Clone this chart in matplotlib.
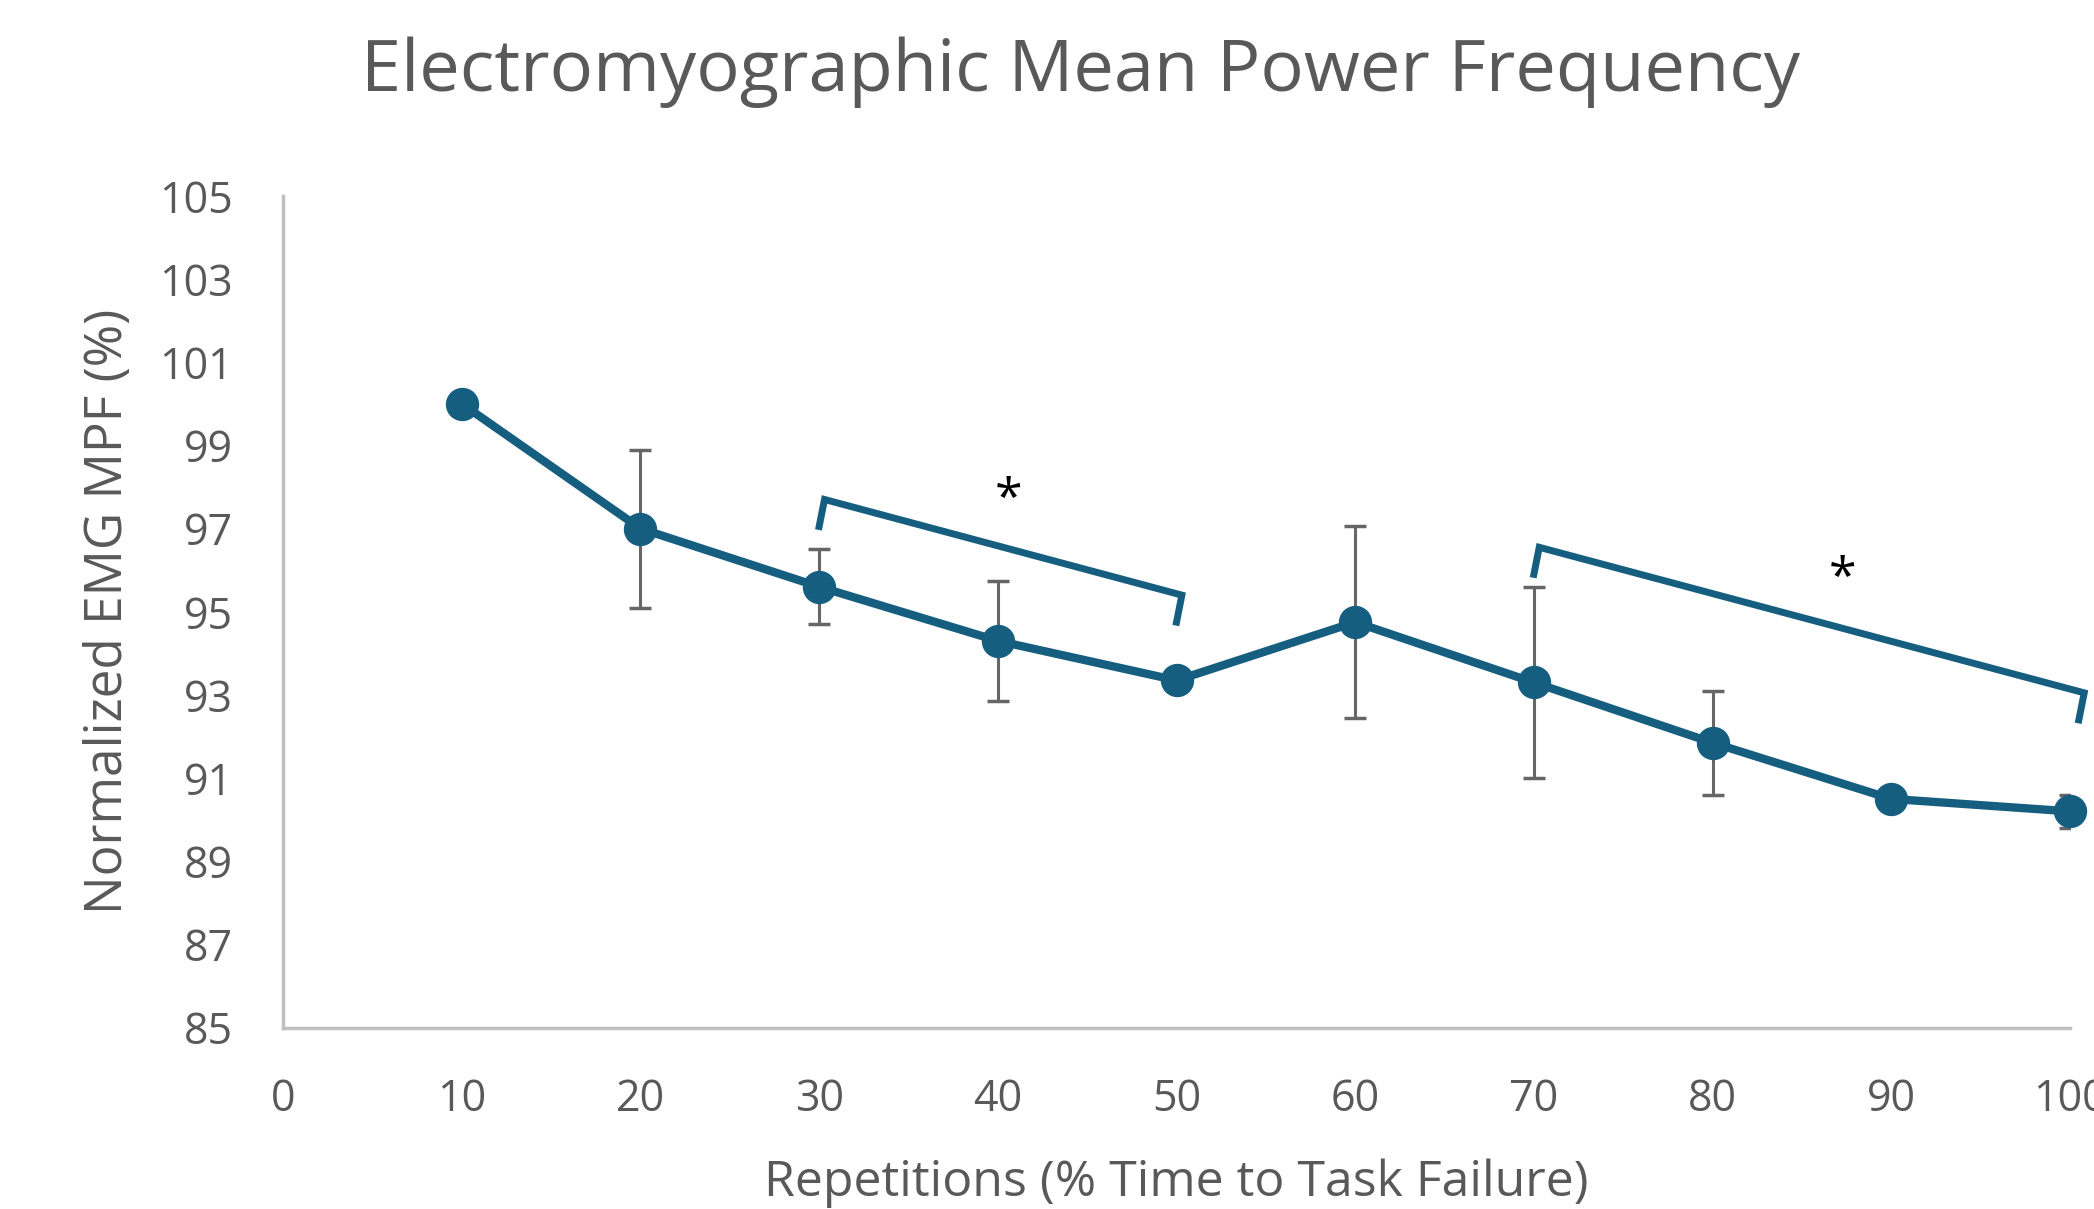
import numpy as np
import matplotlib.pyplot as plt

# --- DATA ---
reps = [10, 20, 30, 40, 50, 60, 70, 80, 90, 100]
mpf = [100.0, 97.0, 95.6, 94.3, 93.35, 94.75, 93.3, 91.85, 90.5, 90.2]
mpf_err = [0.0, 1.9, 0.9, 1.45, 0.0, 2.3, 2.3, 1.25, 0.0, 0.4]

# significance brackets: (start, end), heights at start/end corner
bracket_span = [(30, 50), (70, 100.5)]
bracket_height = [(97.7, 95.4), (96.55, 93.05)]
star_xy = [(40.6, 97.65), (87.3, 95.75)]

# --- STYLING ---
LINE_COLOR = "#165E80"
ERR_COLOR = "#666666"
TEXT_COLOR = "#595959"
AXIS_COLOR = "#BFBFBF"

plt.rcParams['font.family'] = ['Open Sans', 'DejaVu Sans']

fig = plt.figure(figsize=(20.94, 12.09), dpi=100)
ax = fig.add_axes([0.1352, 0.150, 0.8533, 0.688])

ax.errorbar(reps, mpf, yerr=mpf_err, fmt='none', ecolor=ERR_COLOR,
            elinewidth=2.2, capsize=8, capthick=2.5, zorder=2)
ax.plot(reps, mpf, color=LINE_COLOR, linewidth=6, marker='o',
        markersize=23, zorder=3, clip_on=False)

# brackets with little hooks at the ends
tip = 0.65
for (x0, x1), (h0, h1) in zip(bracket_span, bracket_height):
    bx = [x0, x0 + 0.3, x1 + 0.3, x1]
    by = [h0 - tip, h0, h1, h1 - tip]
    ax.plot(bx, by, color=LINE_COLOR, linewidth=5, clip_on=False,
            solid_joinstyle='miter', zorder=3)
for sx, sy in star_xy:
    ax.text(sx, sy, '*', fontsize=36, color='black', ha='center', va='center')

ax.set_xlim(0, 100)
ax.set_ylim(85, 105)
ax.set_xticks(np.arange(0, 101, 10))
ax.set_yticks(np.arange(85, 106, 2))

for side in ['top', 'right']:
    ax.spines[side].set_visible(False)
for side in ['left', 'bottom']:
    ax.spines[side].set_color(AXIS_COLOR)
    ax.spines[side].set_linewidth(2.5)

ax.tick_params(axis='both', length=0, labelsize=31, labelcolor=TEXT_COLOR)
ax.tick_params(axis='x', pad=36)
ax.tick_params(axis='y', pad=36)

ax.set_xlabel("Repetitions (% Time to Task Failure)", fontsize=36,
              color=TEXT_COLOR, labelpad=26)
ax.set_ylabel("Normalized EMG MPF (%)", fontsize=37, color=TEXT_COLOR,
              labelpad=18)

fig.text(0.516, 0.94, "Electromyographic Mean Power Frequency",
         fontsize=52, color=TEXT_COLOR, ha='center', va='center')

fig.savefig("out.png", dpi=100)
